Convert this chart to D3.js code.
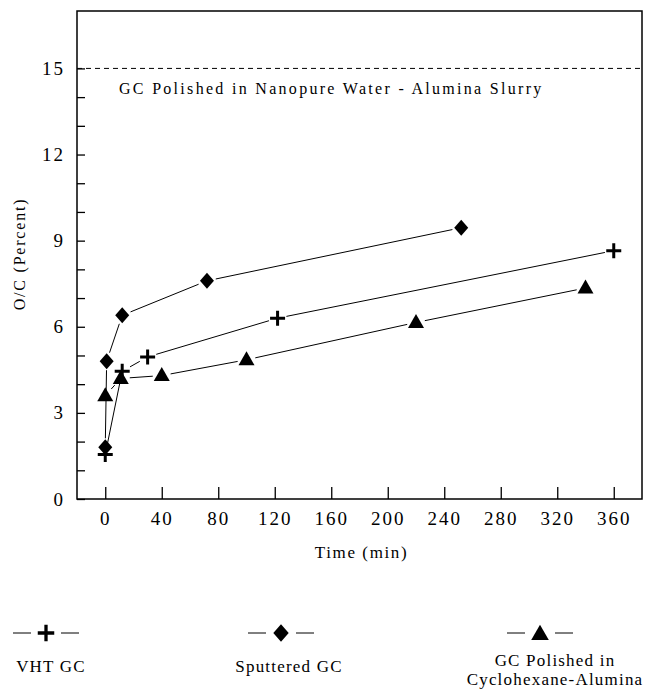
<!DOCTYPE html>
<html>
<head>
    <title>O/C vs time</title>
    <script src="https://d3js.org/d3.v7.min.js"></script>
    <style>
        body { margin: 0; background: #fff; }
        text { font-family: "Liberation Serif", "Times New Roman", serif; fill: #000; }
    </style>
</head>
<body>
    <svg id="chart" width="648" height="690"></svg>

    <script>
    // values
    var vhtTime = [0, 12, 30, 122, 360];
    var vhtOC = [1.55, 4.45, 4.95, 6.3, 8.65];

    var sputTime = [0, 1, 12, 72, 252];
    var sputOC = [1.8, 4.8, 6.4, 7.6, 9.45];

    var cycloTime = [0, 11, 40, 100, 220, 340];
    var cycloOC = [3.6, 4.2, 4.3, 4.85, 6.15, 7.35];

    var xTicks = [0, 40, 80, 120, 160, 200, 240, 280, 320, 360];
    var yTicks = [0, 1, 2, 3, 4, 5, 6, 7, 8, 9, 10, 11, 12, 13, 14, 15];
    var waterLevel = 15;
    var waterLabel = "GC Polished in Nanopure Water - Alumina Slurry";

    var legendNames = [["VHT GC"], ["Sputtered GC"], ["GC Polished in", "Cyclohexane-Alumina"]];
    var legendSymbols = ["plus", "diamond", "triangle"];

    var plotLeft = 77, plotRight = 642, plotTop = 11, plotBottom = 499;

    var svg = d3.select('#chart');

    var x = d3.scaleLinear().domain([-20, 380]).range([plotLeft, plotRight]);
    var y = d3.scaleLinear().domain([0, 17]).range([plotBottom, plotTop]);

    // frame
    svg.append('rect')
        .attr('x', plotLeft).attr('y', plotTop)
        .attr('width', plotRight - plotLeft).attr('height', plotBottom - plotTop)
        .attr('fill', 'none').attr('stroke', '#000').attr('stroke-width', 1.5);

    var xAxis = svg.append('g')
        .attr('transform', `translate(0, ${plotBottom})`)
        .call(d3.axisBottom(x).tickValues(xTicks).tickSizeInner(-12).tickSizeOuter(0).tickPadding(13));

    var yAxis = svg.append('g')
        .attr('transform', `translate(${plotLeft}, 0)`)
        .call(d3.axisLeft(y).tickValues(yTicks).tickSizeInner(-8).tickSizeOuter(0).tickPadding(12)
            .tickFormat(function(d) { return d % 3 === 0 ? d : ''; }));

    [xAxis, yAxis].forEach(function(a) {
        a.select('.domain').remove();
        a.selectAll('line').attr('stroke', '#000').attr('stroke-width', 1.3);
        a.selectAll('text')
            .style('font-family', '"Liberation Serif", serif')
            .style('font-size', '19px')
            .style('letter-spacing', '2px');
    });

    // axis titles
    svg.append('text')
        .attr('x', (plotLeft + plotRight) / 2 + 2)
        .attr('y', 558)
        .attr('text-anchor', 'middle')
        .style('font-size', '17px')
        .style('letter-spacing', '1.6px')
        .text('Time (min)');

    svg.append('text')
        .attr('transform', 'translate(25, 254) rotate(-90)')
        .attr('text-anchor', 'middle')
        .style('font-size', '16px')
        .style('letter-spacing', '1.8px')
        .text('O/C (Percent)');

    // dashed reference level
    svg.append('line')
        .attr('x1', plotLeft).attr('x2', plotRight)
        .attr('y1', y(waterLevel)).attr('y2', y(waterLevel))
        .attr('stroke', '#000').attr('stroke-width', 1)
        .attr('stroke-dasharray', '5,4');

    svg.append('text')
        .attr('x', 119)
        .attr('y', 94)
        .style('font-size', '16px')
        .style('letter-spacing', '2.3px')
        .text(waterLabel);

    // markers
    function drawSymbol(g, kind, cx, cy, s) {
        s = s || 1;
        if (kind === 'plus') {
            g.append('path')
                .attr('d', `M${cx - 7.5 * s},${cy}H${cx + 7.5 * s}M${cx},${cy - 7.5 * s}V${cy + 7.5 * s}`)
                .attr('stroke', '#000').attr('stroke-width', 3 * s).attr('fill', 'none');
        } else if (kind === 'diamond') {
            g.append('path')
                .attr('d', `M${cx},${cy - 8 * s}L${cx + 7 * s},${cy}L${cx},${cy + 8 * s}L${cx - 7 * s},${cy}Z`)
                .attr('fill', '#000');
        } else {
            g.append('path')
                .attr('d', `M${cx},${cy - 8.5 * s}L${cx + 8 * s},${cy + 5.5 * s}L${cx - 8 * s},${cy + 5.5 * s}Z`)
                .attr('fill', '#000');
        }
    }

    // line segments stop short of the markers
    function drawSeries(times, values, kind) {
        var g = svg.append('g');
        var gap = 9;
        for (var i = 0; i < times.length - 1; i++) {
            var x1 = x(times[i]), y1 = y(values[i]);
            var x2 = x(times[i + 1]), y2 = y(values[i + 1]);
            var len = Math.hypot(x2 - x1, y2 - y1);
            if (len <= gap * 2) continue;
            var ux = (x2 - x1) / len, uy = (y2 - y1) / len;
            g.append('line')
                .attr('x1', x1 + ux * gap).attr('y1', y1 + uy * gap)
                .attr('x2', x2 - ux * gap).attr('y2', y2 - uy * gap)
                .attr('stroke', '#000').attr('stroke-width', 1);
        }
        times.forEach(function(t, i) { drawSymbol(g, kind, x(t), y(values[i])); });
    }

    drawSeries(sputTime, sputOC, 'diamond');
    drawSeries(cycloTime, cycloOC, 'triangle');
    drawSeries(vhtTime, vhtOC, 'plus');

    // legend
    var legendX = [46, 281, 540];
    var legendTextX = [51, 289, 555];
    legendNames.forEach(function(names, i) {
        var g = svg.append('g');
        var cx = legendX[i], cy = 633;
        g.append('line').attr('x1', cx - 33).attr('x2', cx - 15).attr('y1', cy).attr('y2', cy)
            .attr('stroke', '#000').attr('stroke-width', 1);
        g.append('line').attr('x1', cx + 15).attr('x2', cx + 33).attr('y1', cy).attr('y2', cy)
            .attr('stroke', '#000').attr('stroke-width', 1);
        drawSymbol(g, legendSymbols[i], cx, cy + (legendSymbols[i] === 'triangle' ? 1 : 0), 1.1);
        var baseY = names.length > 1 ? 666 : 672;
        names.forEach(function(n, j) {
            g.append('text')
                .attr('x', legendTextX[i])
                .attr('y', baseY + j * 19)
                .attr('text-anchor', 'middle')
                .style('font-size', '17px')
                .style('letter-spacing', '1.2px')
                .text(n);
        });
    });
    </script>
</body>
</html>
